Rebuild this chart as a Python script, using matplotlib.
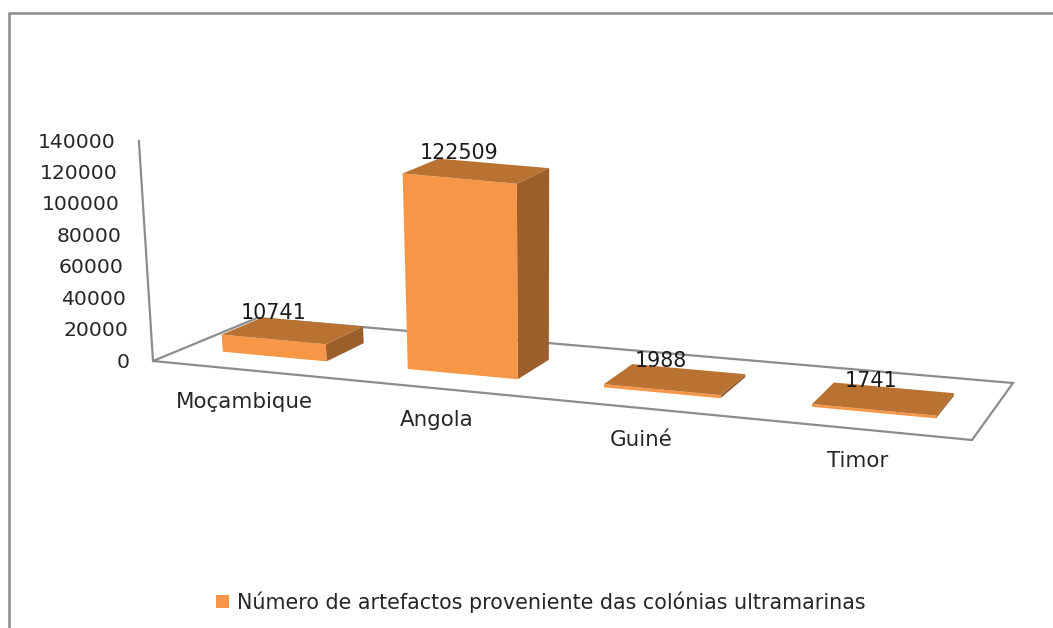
import matplotlib
matplotlib.use("Agg")
import matplotlib.pyplot as plt
from matplotlib.patches import Patch, Polygon

# Data
categorias = ["Moçambique", "Angola", "Guiné", "Timor"]
artefactos = [10741, 122509, 1988, 1741]
ticks_y = [0, 20000, 40000, 60000, 80000, 100000, 120000, 140000]
legenda = "Número de artefactos proveniente das colónias ultramarinas"

COR_FRENTE = "#F79646"
COR_TOPO = "#B97232"
COR_LADO = "#9C5F2B"
COR_LINHA = "#8C8C8C"
COR_TEXTO = "#262626"

# Floor corners of the fake 3D box, in pixels
CHAO_FE = (153, 361)
CHAO_FD = (972, 440)
CHAO_TE = (257, 318)
CHAO_TD = (1013, 383)

VMAX = 140000
ESCALA_EIXO = 220 / VMAX
MEIA_LARGURA = 0.071
V_FRENTE = 0.3
V_TRAS = 0.7


def perspetiva(t):
    # squeezes the categories slightly towards the far end of the floor
    return 0.888 * t / (1 - 0.112 * t)


def projeta(t, v, valor=0, escala=None):
    # t along the categories (0-1), v into the depth (0-1), valor upwards
    u = perspetiva(t)
    fx = CHAO_FE[0] + (CHAO_FD[0] - CHAO_FE[0]) * u
    fy = CHAO_FE[1] + (CHAO_FD[1] - CHAO_FE[1]) * u
    bx = CHAO_TE[0] + (CHAO_TD[0] - CHAO_TE[0]) * u
    by = CHAO_TE[1] + (CHAO_TD[1] - CHAO_TE[1]) * u
    x = fx + (bx - fx) * v
    y = fy + (by - fy) * v
    if escala is None:
        escala = 0.00162 - 0.00008 * v
    h = valor * escala
    inclina = max((x - 540) * 0.0002, -0.064)
    return x + h * inclina, y - h


fig = plt.figure(figsize=(10.53, 6.28), dpi=100)
ax = fig.add_axes([0, 0, 1, 1])
ax.set_xlim(0, 1053)
ax.set_ylim(628, 0)
ax.axis("off")

# Outer frame (only top and left are visible)
ax.plot([8.5, 8.5, 1053], [628, 13, 13], color=COR_LINHA, lw=1.8, solid_joinstyle="miter")

# Floor and vertical axis
canto = [projeta(0, 0), projeta(1, 0), projeta(1, 1), projeta(0, 1)]
ax.add_patch(Polygon(canto, closed=True, fill=False, edgecolor=COR_LINHA, lw=1.6, zorder=1))
topo_eixo = projeta(0, 0, VMAX, ESCALA_EIXO)
ax.plot([CHAO_FE[0], topo_eixo[0]], [CHAO_FE[1], topo_eixo[1]], color=COR_LINHA, lw=1.6, zorder=1)

for valor in ticks_y:
    px, py = projeta(0, 0, valor, ESCALA_EIXO)
    ax.text(px - 23, py + 1, str(valor), ha="right", va="center", fontsize=14.7, color=COR_TEXTO)

# Bars
for i, (nome, valor) in enumerate(zip(categorias, artefactos)):
    centro = (i + 0.5) / len(categorias)
    t0 = centro - MEIA_LARGURA
    t1 = centro + MEIA_LARGURA

    frente = [projeta(t0, V_FRENTE), projeta(t1, V_FRENTE),
              projeta(t1, V_FRENTE, valor), projeta(t0, V_FRENTE, valor)]
    lado = [projeta(t1, V_FRENTE), projeta(t1, V_TRAS),
            projeta(t1, V_TRAS, valor), projeta(t1, V_FRENTE, valor)]
    topo = [projeta(t0, V_FRENTE, valor), projeta(t1, V_FRENTE, valor),
            projeta(t1, V_TRAS, valor), projeta(t0, V_TRAS, valor)]
    ax.add_patch(Polygon(lado, closed=True, facecolor=COR_LADO, edgecolor="none", zorder=2))
    ax.add_patch(Polygon(frente, closed=True, facecolor=COR_FRENTE, edgecolor="none", zorder=3))
    ax.add_patch(Polygon(topo, closed=True, facecolor=COR_TOPO, edgecolor="none", zorder=3))

    # Value above the bar
    tx, ty = projeta(centro, 0.5, valor)
    ax.text(tx - 20 + 9 * perspetiva(centro), ty - 18, str(valor), ha="center", va="center",
            fontsize=14.9, color="#1a1a1a", zorder=5)

    # Category name under the floor
    cx, cy = projeta(centro, 0)
    ax.text(cx - 1, cy + 32, nome, ha="center", va="center", fontsize=15.4, color=COR_TEXTO)

# Legend
ax.legend(handles=[Patch(facecolor=COR_FRENTE, label=legenda)], loc="center",
          bbox_to_anchor=(541, 602), bbox_transform=ax.transData, frameon=False,
          fontsize=14.85, labelcolor=COR_TEXTO, handlelength=0.63, handleheight=0.63,
          handletextpad=0.39, borderpad=0)

fig.savefig("out.png", dpi=100)
